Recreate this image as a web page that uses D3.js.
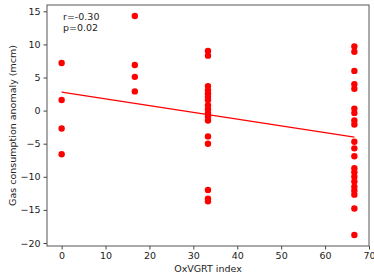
<!DOCTYPE html>
<html>
<head>
<meta charset="utf-8">
<script src="https://cdn.jsdelivr.net/npm/d3@7"></script>
<style>
  body { margin: 0; background: #fff; }
  svg text { font-family: "DejaVu Sans", sans-serif; fill: #222; }
</style>
</head>
<body>
<svg id="chart" width="374" height="280"></svg>
<script>
// OxVGRT index levels and the gas anomaly values seen at each one
var xLevels = [0, 16.67, 33.33, 66.67];
var yAt0 = [7.2, 1.6, -2.7, -6.6];
var yAt17 = [14.3, 6.9, 5.1, 2.9];
var yAt33 = [9.0, 8.3, 3.7, 3.1, 2.6, 2.1, 1.6, 0.8, 0.2, -0.4, -0.9, -1.5, -3.9, -5.0, -12.0, -13.3, -13.7];
var yAt67 = [9.7, 8.9, 6.0, 4.0, 3.3, 0.3, -0.35, -1.5, -2.1, -4.7, -5.7, -6.9,
             -8.7, -9.3, -10.0, -10.7, -11.5, -12.1, -12.7, -14.8, -18.8];

// fitted line
var fitIntercept = 2.8;
var fitSlope = -0.102;
var statsText = ["r=-0.30", "p=0.02"];

var xTicks = [0, 10, 20, 30, 40, 50, 60, 70];
var yTicks = [-20, -15, -10, -5, 0, 5, 10, 15];

var groups = [yAt0, yAt17, yAt33, yAt67];
var points = [];
groups.forEach(function(g, i){
    g.forEach(function(v){ points.push({x: xLevels[i], y: v}); });
});

var margin = {left: 47, right: 5, top: 5, bottom: 34};
var W = 374, H = 280;
var svg = d3.select("#chart");

// matplotlib style 5% padding around the data
var xMin = d3.min(points, function(d){return d.x}), xMax = d3.max(points, function(d){return d.x});
var yMin = d3.min(points, function(d){return d.y}), yMax = d3.max(points, function(d){return d.y});
var xPad = (xMax - xMin) * 0.05, yPad = (yMax - yMin) * 0.05;

var x = d3.scaleLinear().domain([xMin - xPad, xMax + xPad]).range([margin.left, W - margin.right]);
var y = d3.scaleLinear().domain([yMin - yPad, yMax + yPad]).range([H - margin.bottom, margin.top]);

var xAxis = svg.append("g").attr("transform", "translate(0," + (H - margin.bottom) + ")")
    .call(d3.axisBottom(x).tickValues(xTicks).tickSize(3.5).tickPadding(3).tickSizeOuter(0));
var yAxis = svg.append("g").attr("transform", "translate(" + margin.left + ",0)")
    .call(d3.axisLeft(y).tickValues(yTicks).tickSize(3.5).tickPadding(3).tickSizeOuter(0));

[xAxis, yAxis].forEach(function(a){
    a.selectAll("text").style("font-size", "9.5px").style("font-family", "DejaVu Sans");
    a.selectAll("line").attr("stroke", "#444");
    a.select(".domain").remove();
});

// frame
svg.append("rect")
    .attr("x", margin.left).attr("y", margin.top)
    .attr("width", W - margin.left - margin.right)
    .attr("height", H - margin.top - margin.bottom)
    .attr("fill", "none").attr("stroke", "#555").attr("stroke-width", 1);

svg.append("g").selectAll("circle")
    .data(points)
    .enter().append("circle")
    .attr("cx", function(d){return x(d.x)})
    .attr("cy", function(d){return y(d.y)})
    .attr("r", 3.2)
    .attr("fill", "#ff0000");

svg.append("line")
    .attr("x1", x(xMin)).attr("y1", y(fitIntercept + fitSlope * xMin))
    .attr("x2", x(xMax)).attr("y2", y(fitIntercept + fitSlope * xMax))
    .attr("stroke", "#ff0000").attr("stroke-width", 1.2);

svg.append("g").selectAll("text")
    .data(statsText)
    .enter().append("text")
    .attr("x", 63)
    .attr("y", function(d, i){return 20 + i * 11})
    .style("font-size", "9.5px")
    .text(function(d){return d});

svg.append("text")
    .attr("x", (margin.left + W - margin.right) / 2)
    .attr("y", 272)
    .attr("text-anchor", "middle")
    .style("font-size", "9.5px")
    .text("OxVGRT index");

svg.append("text")
    .attr("transform", "translate(16," + ((margin.top + H - margin.bottom) / 2) + ") rotate(-90)")
    .attr("text-anchor", "middle")
    .style("font-size", "9.5px")
    .text("Gas consumption anomaly (mcm)");
</script>
</body>
</html>
